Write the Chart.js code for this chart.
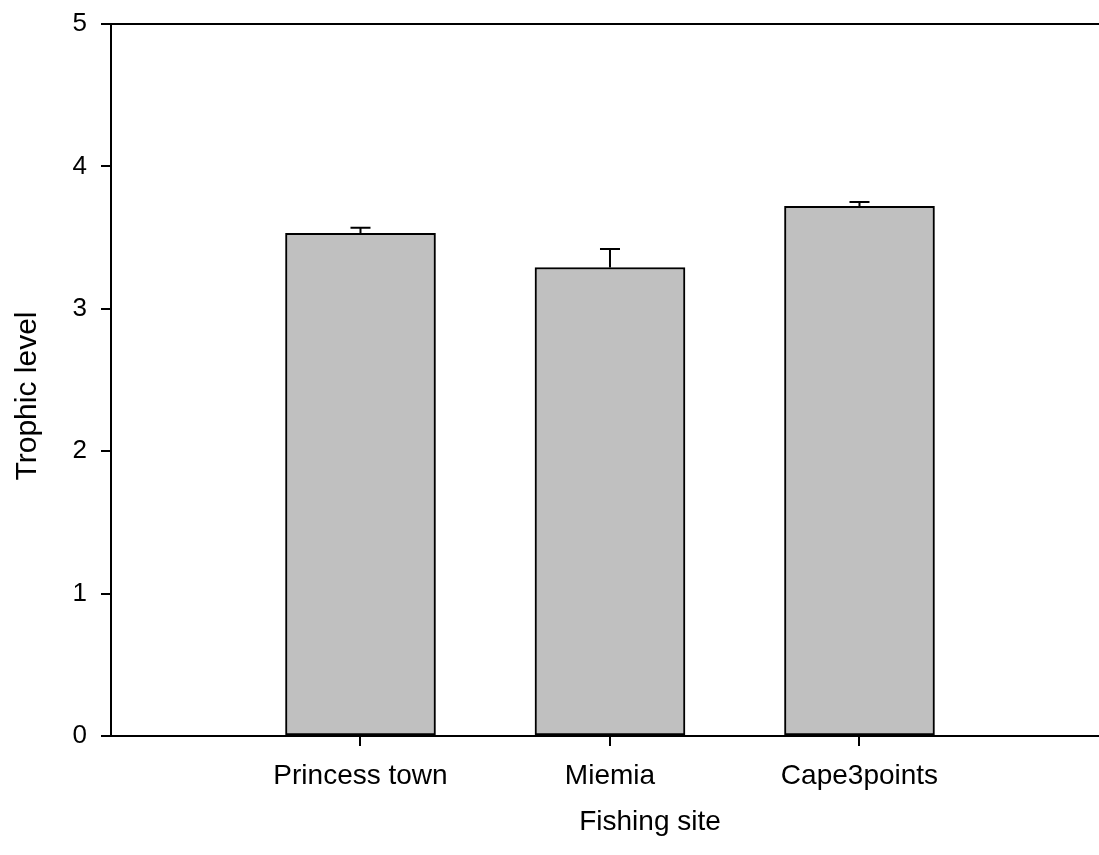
<!DOCTYPE html>
<html>
<head>
<meta charset="utf-8">
<title>Trophic level by fishing site</title>
<script src="https://cdn.jsdelivr.net/npm/chart.js@4.4.1/dist/chart.umd.min.js"></script>
<style>
  html, body { margin: 0; padding: 0; background: #fff; }
  #wrap { width: 1099px; height: 855px; position: relative; }
</style>
</head>
<body>
<div id="wrap"><canvas id="chart"></canvas></div>
<script>
// data
const sites = ["Princess town", "Miemia", "Cape3points"];
const sitePos = [1, 2, 3];
const trophic = [3.53, 3.29, 3.72];
const trophicSE = [0.04, 0.13, 0.03];
const yTicks = [0, 1, 2, 3, 4, 5];
const xTitle = "Fishing site";
const yTitle = "Trophic level";

const FONT = "'Liberation Sans', Arial, sans-serif";

// error bars (upper half only), top frame line, axis titles
// (the original plot runs on past the right edge, so its x title sits right of centre)
const extras = {
  id: "extras",
  afterDatasetsDraw(chart) {
    const {ctx, scales: {x, y}, chartArea} = chart;
    ctx.save();
    ctx.strokeStyle = "#000";
    ctx.lineWidth = 2;
    sitePos.forEach((p, i) => {
      const px = x.getPixelForValue(p);
      const y0 = y.getPixelForValue(trophic[i]);
      const y1 = y.getPixelForValue(trophic[i] + trophicSE[i]);
      ctx.beginPath();
      ctx.moveTo(px, y0);
      ctx.lineTo(px, y1);
      ctx.moveTo(px - 10, y1);
      ctx.lineTo(px + 10, y1);
      ctx.stroke();
    });
    ctx.beginPath();
    ctx.moveTo(chartArea.left - 10, chartArea.top);
    ctx.lineTo(chartArea.right, chartArea.top);
    ctx.stroke();

    ctx.fillStyle = "#000";
    ctx.textAlign = "center";
    ctx.textBaseline = "middle";
    ctx.font = "28px " + FONT;
    ctx.fillText(xTitle, 650, 822);
    ctx.translate(28, 396);
    ctx.rotate(-Math.PI / 2);
    ctx.font = "30px " + FONT;
    ctx.fillText(yTitle, 0, 0);
    ctx.restore();
  }
};

new Chart(document.getElementById("chart"), {
  type: "bar",
  data: {
    datasets: [{
      data: trophic.map((v, i) => ({x: sitePos[i], y: v})),
      backgroundColor: "#c0c0c0",
      borderColor: "#000",
      borderWidth: 2,
      borderSkipped: false,
      barThickness: 150
    }]
  },
  options: {
    responsive: true,
    maintainAspectRatio: false,
    animation: false,
    layout: {padding: {top: 24, right: 0, left: 0, bottom: 0}},
    plugins: {legend: {display: false}, tooltip: {enabled: false}},
    scales: {
      x: {
        type: "linear",
        min: 0,
        max: 3.96,
        offset: false,
        afterBuildTicks: (s) => { s.ticks = sitePos.map(v => ({value: v})); },
        afterFit: (s) => { s.height = 119; s.paddingLeft = 0; s.paddingRight = 0; },
        border: {color: "#000", width: 2},
        grid: {display: true, offset: false, drawOnChartArea: false, drawTicks: true, tickLength: 10, color: "#000", lineWidth: 2},
        ticks: {
          color: "#000",
          font: {family: FONT, size: 28},
          padding: 13,
          maxRotation: 0,
          autoSkip: false,
          callback: (v) => sites[sitePos.indexOf(v)] || ""
        }
      },
      y: {
        min: 0,
        max: 5,
        afterBuildTicks: (s) => { s.ticks = yTicks.map(v => ({value: v})); },
        afterFit: (s) => { s.width = 111; s.paddingTop = 0; s.paddingBottom = 0; },
        border: {color: "#000", width: 2},
        grid: {display: true, drawOnChartArea: false, drawTicks: true, tickLength: 10, color: "#000", lineWidth: 2},
        ticks: {color: "#000", font: {family: FONT, size: 26}, padding: 14}
      }
    }
  },
  plugins: [extras]
});
</script>
</body>
</html>
